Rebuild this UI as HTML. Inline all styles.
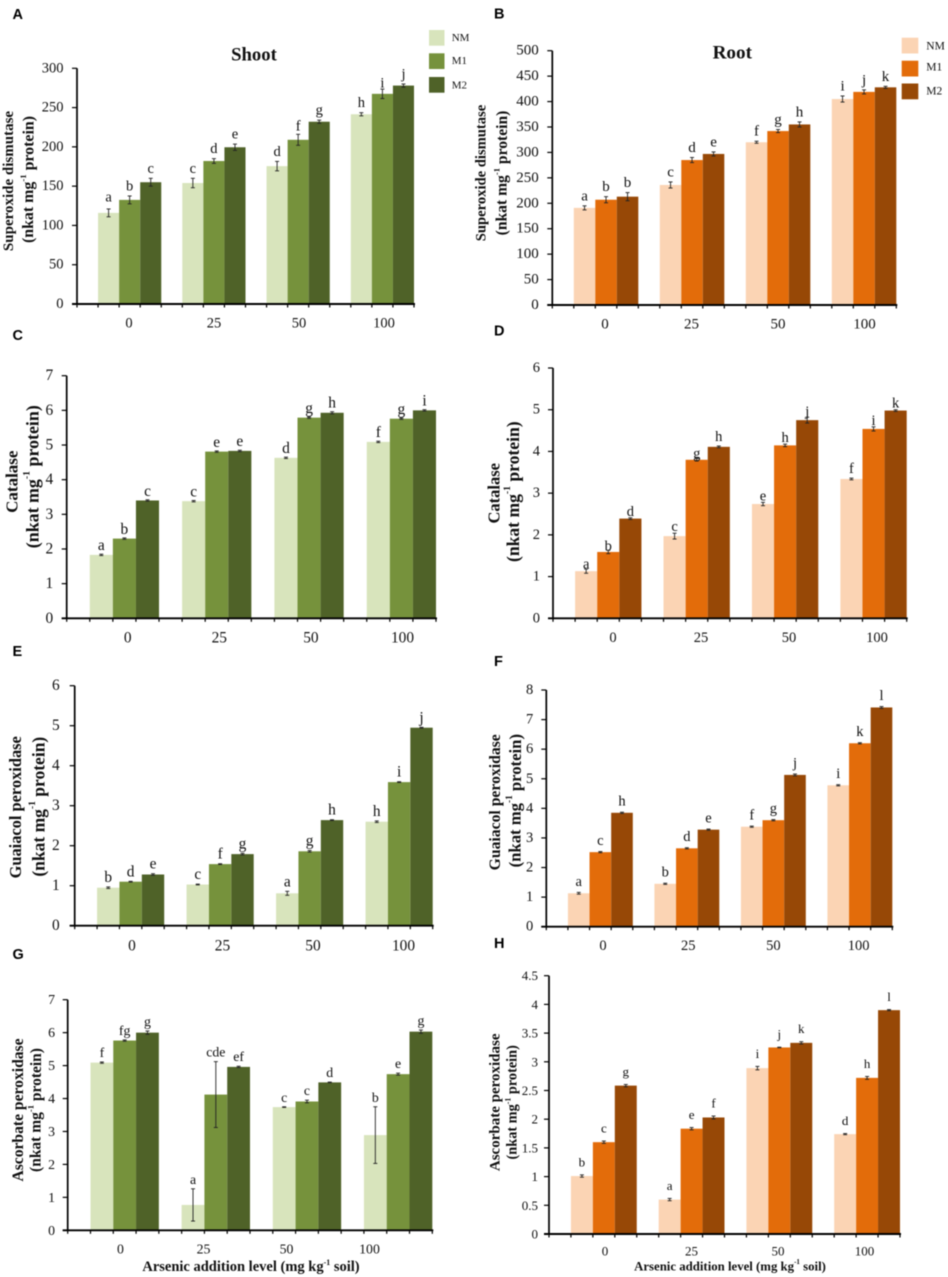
<!DOCTYPE html>
<html lang="en">
<head>
<meta charset="utf-8">
<title>Antioxidant enzyme activity in shoot and root</title>
<style>
  html, body { margin: 0; padding: 0; background: #fff; }
  #figure { display: block; width: 948px; height: 1277px; filter: blur(0.45px); }
  text { font-family: "Liberation Serif", serif; fill: #111; }
  .panel-letter { font-family: "Liberation Sans", sans-serif; font-weight: bold; font-size: 14.5px; fill: #000; }
  .bold { font-weight: bold; }
</style>
</head>
<body>
<svg id="figure" xmlns="http://www.w3.org/2000/svg" width="948" height="1277" viewBox="0 0 948 1277"></svg>
<script>
// ---------- data ----------
const categories = ['0', '25', '50', '100'];
const seriesNames = ['NM', 'M1', 'M2'];

// A: superoxide dismutase, shoot
const aTicks = [0, 50, 100, 150, 200, 250, 300];
const aNM = [116, 154, 175.5, 241.5];
const aM1 = [132.5, 182, 209, 267.5];
const aM2 = [155, 199.5, 232, 278];
const aErrNM = [5, 6, 6, 2];
const aErrM1 = [5, 3, 7, 6];
const aErrM2 = [5, 4, 2, 2];
const aLetters = ['a', 'b', 'c', 'c', 'd', 'e', 'd', 'f', 'g', 'h', 'i', 'j'];

// B: superoxide dismutase, root
const bTicks = [0, 50, 100, 150, 200, 250, 300, 350, 400, 450, 500];
const bNM = [191, 236, 320, 405];
const bM1 = [207, 285, 342, 419];
const bM2 = [213, 297, 355, 428];
const bErrNM = [4, 6, 2, 6];
const bErrM1 = [6, 5, 3, 4];
const bErrM2 = [8, 4, 5, 2];
const bLetters = ['a', 'b', 'b', 'c', 'd', 'e', 'f', 'g', 'h', 'i', 'j', 'k'];

// C: catalase, shoot
const cTicks = [0, 1, 2, 3, 4, 5, 6, 7];
const cNM = [1.83, 3.38, 4.63, 5.09];
const cM1 = [2.3, 4.81, 5.79, 5.76];
const cM2 = [3.4, 4.83, 5.93, 6.0];
const cErrNM = [0.02, 0.02, 0.02, 0.02];
const cErrM1 = [0.02, 0.02, 0.02, 0.02];
const cErrM2 = [0.02, 0.02, 0.03, 0.02];
const cLetters = ['a', 'b', 'c', 'c', 'e', 'e', 'd', 'g', 'h', 'f', 'g', 'i'];

// D: catalase, root
const dTicks = [0, 1, 2, 3, 4, 5, 6];
const dNM = [1.13, 1.97, 2.74, 3.34];
const dM1 = [1.59, 3.8, 4.145, 4.54];
const dM2 = [2.39, 4.11, 4.75, 4.98];
const dErrNM = [0.05, 0.07, 0.04, 0.02];
const dErrM1 = [0.04, 0.03, 0.03, 0.05];
const dErrM2 = [0.02, 0.02, 0.07, 0.02];
const dLetters = ['a', 'b', 'd', 'c', 'g', 'h', 'e', 'h', 'j', 'f', 'i', 'k'];

// E: guaiacol peroxidase, shoot
const eTicks = [0, 1, 2, 3, 4, 5, 6];
const eNM = [0.95, 1.03, 0.81, 2.6];
const eM1 = [1.1, 1.54, 1.86, 3.59];
const eM2 = [1.28, 1.79, 2.64, 4.95];
const eErrNM = [0.02, 0.01, 0.05, 0.02];
const eErrM1 = [0.01, 0.01, 0.02, 0.01];
const eErrM2 = [0.02, 0.02, 0.01, 0.01];
const eLetters = ['b', 'd', 'e', 'c', 'f', 'g', 'a', 'g', 'h', 'h', 'i', 'j'];

// F: guaiacol peroxidase, root
const fTicks = [0, 1, 2, 3, 4, 5, 6, 7, 8];
const fNM = [1.13, 1.45, 3.38, 4.78];
const fM1 = [2.52, 2.65, 3.6, 6.2];
const fM2 = [3.85, 3.28, 5.13, 7.41];
const fErrNM = [0.03, 0.02, 0.02, 0.02];
const fErrM1 = [0.02, 0.02, 0.02, 0.02];
const fErrM2 = [0.02, 0.02, 0.03, 0.03];
const fLetters = ['a', 'c', 'h', 'b', 'd', 'e', 'f', 'g', 'j', 'i', 'k', 'l'];

// G: ascorbate peroxidase, shoot
const gTicks = [0, 1, 2, 3, 4, 5, 6, 7];
const gNM = [5.09, 0.77, 3.74, 2.89];
const gM1 = [5.76, 4.12, 3.91, 4.74];
const gM2 = [6.0, 4.96, 4.49, 6.03];
const gErrNM = [0.02, 0.49, 0.01, 0.86];
const gErrM1 = [0.02, 1.0, 0.04, 0.03];
const gErrM2 = [0.05, 0.02, 0.01, 0.05];
const gLetters = ['f', 'fg', 'g', 'a', 'cde', 'ef', 'c', 'c', 'd', 'b', 'e', 'g'];

// H: ascorbate peroxidase, root
const hTicks = [0, 0.5, 1, 1.5, 2, 2.5, 3, 3.5, 4, 4.5];
const hNM = [1.01, 0.6, 2.89, 1.74];
const hM1 = [1.6, 1.835, 3.25, 2.72];
const hM2 = [2.585, 2.03, 3.33, 3.9];
const hErrNM = [0.02, 0.02, 0.03, 0.01];
const hErrM1 = [0.02, 0.02, 0.005, 0.025];
const hErrM2 = [0.02, 0.025, 0.02, 0.01];
const hLetters = ['b', 'c', 'g', 'a', 'e', 'f', 'i', 'j', 'k', 'd', 'h', 'l'];

// ---------- palettes ----------
const greens = ['#d8e4bc', '#76923c', '#4f6228'];
const oranges = ['#fbd4b4', '#e36c0a', '#974806'];

// ---------- layout of each panel ----------
const panels = [
  { id: 'a', tag: 'A', tagX: 12.5, tagY: 19, colors: greens, ticks: aTicks, series: [aNM, aM1, aM2], errors: [aErrNM, aErrM1, aErrM2], letters: aLetters,
    x0: 77, x1: 414, yTop: 68.3, yBase: 304, catStart: 129, catStep: 85, catY: 323.5, tickFont: 14.5, tickGap: 13.5, letterGap: 5.5, letterNudge: { 0: -2, 7: 1.5, 10: 4 },
    name1: 'Superoxide dismutase', line1: { x: 9, y: 181, size: 15 }, line2: { x: 28.5, y: 179.5, size: 15.9 } },
  { id: 'b', tag: 'B', tagX: 494, tagY: 18.5, colors: oranges, ticks: bTicks, series: [bNM, bM1, bM2], errors: [bErrNM, bErrM1, bErrM2], letters: bLetters,
    x0: 552.3, x1: 896.3, yTop: 50.7, yBase: 305, catStart: 605, catStep: 86.5, catY: 324.5, tickFont: 15, tickGap: 13.5, letterGap: 5.5, letterNudge: {},
    name1: 'Superoxide dismutase', line1: { x: 481.3, y: 173, size: 14.6 }, line2: { x: 502, y: 173, size: 15.6 } },
  { id: 'c', tag: 'C', tagX: 12.5, tagY: 340, colors: greens, ticks: cTicks, series: [cNM, cM1, cM2], errors: [cErrNM, cErrM1, cErrM2], letters: cLetters,
    x0: 66.7, x1: 436, yTop: 375.7, yBase: 618.3, catStart: 127.7, catStep: 91.6, catY: 638, tickFont: 15.4, tickGap: 13.5, letterGap: 4, letterNudge: {},
    name1: 'Catalase', line1: { x: 12, y: 481.7, size: 17 }, line2: { x: 32.7, y: 476.7, size: 17.9 } },
  { id: 'd', tag: 'D', tagX: 494, tagY: 335.5, colors: oranges, ticks: dTicks, series: [dNM, dM1, dM2], errors: [dErrNM, dErrM1, dErrM2], letters: dLetters,
    x0: 553, x1: 906.7, yTop: 368, yBase: 618.3, catStart: 613, catStep: 88, catY: 638, tickFont: 14.5, tickGap: 13, letterGap: 2, letterNudge: { 0: 1.5, 1: 2, 4: 1.5, 5: -3, 8: 1, 9: -3 },
    name1: 'Catalase', line1: { x: 494, y: 493.3, size: 16.5 }, line2: { x: 513, y: 491.7, size: 17.6 } },
  { id: 'e', tag: 'E', tagX: 12.5, tagY: 656, colors: greens, ticks: eTicks, series: [eNM, eM1, eM2], errors: [eErrNM, eErrM1, eErrM2], letters: eLetters,
    x0: 74.7, x1: 432.7, yTop: 685.7, yBase: 925.7, catStart: 132, catStep: 90.5, catY: 946, tickFont: 15.4, tickGap: 15, letterGap: 5, letterNudge: {},
    name1: 'Guaiacol peroxidase', line1: { x: 15.7, y: 807.3, size: 16.4 }, line2: { x: 38.3, y: 806.7, size: 17.5 } },
  { id: 'f', tag: 'F', tagX: 494, tagY: 666, colors: oranges, ticks: fTicks, series: [fNM, fM1, fM2], errors: [fErrNM, fErrM1, fErrM2], letters: fLetters,
    x0: 546.3, x1: 892.3, yTop: 690, yBase: 926.7, catStart: 603, catStep: 85.2, catY: 946, tickFont: 14.5, tickGap: 13, letterGap: 6.5, letterNudge: {},
    name1: 'Guaiacol peroxidase', line1: { x: 495.7, y: 802.3, size: 15.7 }, line2: { x: 515, y: 800.7, size: 16.7 } },
  { id: 'g', tag: 'G', tagX: 12.5, tagY: 959, colors: greens, ticks: gTicks, series: [gNM, gM1, gM2], errors: [gErrNM, gErrM1, gErrM2], letters: gLetters,
    x0: 67.7, x1: 432.3, yTop: 999.7, yBase: 1230.3, catStart: 120.5, catStep: 83, catY: 1249, tickFont: 13.8, tickGap: 12.7, letterGap: 5, letterNudge: {},
    name1: 'Ascorbate peroxidase', line1: { x: 18.3, y: 1110, size: 15.6 }, line2: { x: 36, y: 1110, size: 15.5 },
    xTitle: { x: 251, y: 1267, size: 14.5 } },
  { id: 'h', tag: 'H', tagX: 494, tagY: 948, colors: oranges, ticks: hTicks, series: [hNM, hM1, hM2], errors: [hErrNM, hErrM1, hErrM2], letters: hLetters,
    x0: 549, x1: 900, yTop: 975.7, yBase: 1234, catStart: 605, catStep: 86.5, catY: 1251, tickFont: 13, tickGap: 11, letterGap: 8.5, letterNudge: {},
    name1: 'Ascorbate peroxidase', line1: { x: 495.7, y: 1102.3, size: 15 }, line2: { x: 512.3, y: 1102.3, size: 14.3 },
    xTitle: { x: 730, y: 1266.7, size: 12.8 } }
];

const legends = [
  { id: 'a', colors: greens, swatchX: 429, swatchW: 15.5, swatchH: 15.7, rows: [30, 53.3, 77], textX: 451.7, textDy: [8, 7.5, 8.7], size: 11 },
  { id: 'b', colors: oranges, swatchX: 901.7, swatchW: 16.6, swatchH: 15.8, rows: [37.7, 60.7, 83.5], textX: 926.3, textDy: [8.6, 7, 8.2], size: 11.5 }
];

const titles = [
  { name: 'shoot-title', text: 'Shoot', x: 254, y: 55, size: 18.7 },
  { name: 'root-title', text: 'Root', x: 732.3, y: 53, size: 19.2 }
];

// ---------- helpers ----------
const SVG_NS = 'http://www.w3.org/2000/svg';
const root = document.getElementById('figure');

function make(parent, tag, attrs) {
  const el = document.createElementNS(SVG_NS, tag);
  for (const k in attrs) el.setAttribute(k, attrs[k]);
  parent.appendChild(el);
  return el;
}

function line(parent, x1, y1, x2, y2, color, width) {
  return make(parent, 'line', { x1: x1, y1: y1, x2: x2, y2: y2, stroke: color, 'stroke-width': width });
}

function labelWithUnit(parent, before, after, attrs) {
  const t = make(parent, 'text', attrs);
  t.appendChild(document.createTextNode(before));
  const size = parseFloat(attrs['font-size']);
  const sup = make(t, 'tspan', { 'font-size': size * 0.55, dy: -size * 0.35 });
  sup.textContent = '-1';
  const rest = make(t, 'tspan', { dy: size * 0.35 });
  rest.textContent = after;
  return t;
}

// ---------- drawing ----------
function drawPanel(p) {
  const g = make(root, 'g', {});
  
  

  const tickMax = p.ticks[p.ticks.length - 1];
  const yScale = function (v) { return p.yBase - (v / tickMax) * (p.yBase - p.yTop); };
  const unit = (p.x1 - p.x0) / 16;
  const xScale = function (groupIndex, seriesIndex) { return p.x0 + unit * (4 * groupIndex + 1 + seriesIndex); };

  const tag = make(g, 'text', { x: p.tagX, y: p.tagY, class: 'panel-letter' });
  
  
  tag.textContent = p.tag;

  // bars
  p.series.forEach(function (values, s) {
    values.forEach(function (v, c) {
      const bar = make(g, 'rect', {
        x: xScale(c, s), y: yScale(v), width: unit, height: p.yBase - yScale(v), fill: p.colors[s]
      });
      
      
    });
  });

  // error bars and significance letters
  p.series.forEach(function (values, s) {
    values.forEach(function (v, c) {
      const e = p.errors[s][c];
      const cx = xScale(c, s) + unit / 2;
      const top = yScale(v + e);
      const bottom = yScale(v - e);
      const eg = make(g, 'g', {});
      
      
      line(eg, cx, top, cx, bottom, '#222', 0.9);
      line(eg, cx - 2, top, cx + 2, top, '#222', 0.9);
      line(eg, cx - 2, bottom, cx + 2, bottom, '#222', 0.9);

      const index = c * 3 + s;
      const letter = make(g, 'text', {
        x: cx, y: top - p.letterGap + (p.letterNudge[index] || 0), 'text-anchor': 'middle', 'font-size': p.tickFont
      });
      
      
      letter.textContent = p.letters[index];
    });
  });

  // axes
  const yAxis = line(g, p.x0, p.yTop, p.x0, p.yBase + 1, '#000', 1.7);
  
  
  const xAxis = line(g, p.x0 - 5, p.yBase, p.x1 + 1, p.yBase, '#000', 1.9);
  
  

  p.ticks.forEach(function (t) {
    const y = yScale(t);
    const mark = line(g, p.x0 - 5, y, p.x0, y, '#000', 1.2);
    
    
    const lab = make(g, 'text', {
      x: p.x0 - p.tickGap, y: y, 'text-anchor': 'end', 'dominant-baseline': 'central', 'font-size': p.tickFont
    });
    
    
    lab.textContent = String(t);
  });

  for (let i = 0; i <= 16; i++) {
    const x = p.x0 + unit * i;
    const mark = line(g, x, p.yBase, x, p.yBase + 3.5, '#000', 1.2);
    
    
  }

  categories.forEach(function (cat, c) {
    const lab = make(g, 'text', {
      x: p.catStart + p.catStep * c, y: p.catY, 'text-anchor': 'middle', 'dominant-baseline': 'central', 'font-size': p.tickFont
    });
    
    
    lab.textContent = cat;
  });

  // y-axis title, two lines
  const y1 = make(g, 'text', {
    x: p.line1.x, y: p.line1.y, class: 'bold', 'text-anchor': 'middle', 'dominant-baseline': 'central',
    'font-size': p.line1.size, transform: 'rotate(-90 ' + p.line1.x + ' ' + p.line1.y + ')'
  });
  
  
  y1.textContent = p.name1;

  const y2 = labelWithUnit(g, '(nkat mg', ' protein)', {
    x: p.line2.x, y: p.line2.y, class: 'bold', 'text-anchor': 'middle', 'dominant-baseline': 'central',
    'font-size': p.line2.size, transform: 'rotate(-90 ' + p.line2.x + ' ' + p.line2.y + ')'
  });
  
  

  if (p.xTitle) {
    const xt = labelWithUnit(g, 'Arsenic addition level (mg kg', ' soil)', {
      x: p.xTitle.x, y: p.xTitle.y, class: 'bold', 'text-anchor': 'middle', 'dominant-baseline': 'central',
      'font-size': p.xTitle.size
    });
    
    
  }
}

function drawLegend(l) {
  const g = make(root, 'g', {});
  
  
  seriesNames.forEach(function (name, i) {
    const sw = make(g, 'rect', { x: l.swatchX, y: l.rows[i], width: l.swatchW, height: l.swatchH, fill: l.colors[i] });
    
    
    const t = make(g, 'text', { x: l.textX, y: l.rows[i] + l.textDy[i], 'dominant-baseline': 'central', 'font-size': l.size });
    
    
    t.textContent = name;
  });
}

panels.forEach(drawPanel);
legends.forEach(drawLegend);
titles.forEach(function (t) {
  const el = make(root, 'text', {
    x: t.x, y: t.y, class: 'bold', 'text-anchor': 'middle', 'dominant-baseline': 'central', 'font-size': t.size
  });
  
  
  el.textContent = t.text;
});
</script>
</body>
</html>
